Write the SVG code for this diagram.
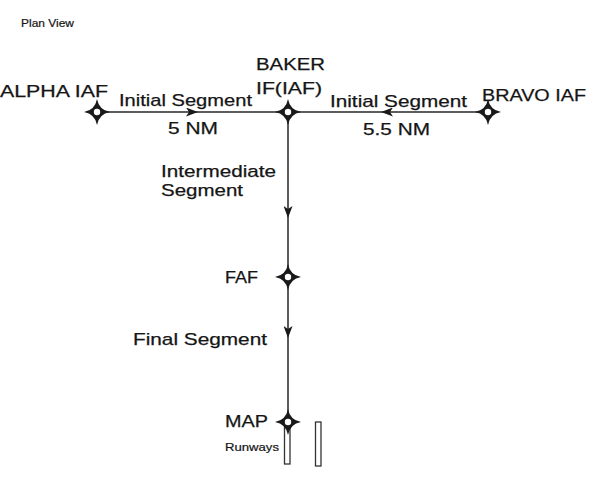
<svg xmlns="http://www.w3.org/2000/svg" width="600" height="481" viewBox="0 0 600 481">
<style>
.t{font-family:"Liberation Sans",Arial,sans-serif;font-size:17px;fill:#151515;stroke:#151515;stroke-width:0.25}
.s{font-family:"Liberation Sans",Arial,sans-serif;font-size:10.5px;fill:#151515;stroke:#151515;stroke-width:0.2}
.c{fill:none;stroke:#262626;stroke-width:1.5}
.rw{fill:#fff;stroke:#333;stroke-width:1.3}
</style>
<defs>
<marker id="arr" viewBox="0 0 12 9" refX="12" refY="4.5" markerWidth="12" markerHeight="9" orient="auto" markerUnits="userSpaceOnUse">
<path d="M0,0 L12,4.5 L0,9 L3,4.5 Z" fill="#1a1a1a"/>
</marker>
<g id="fix">
<path d="M0,-13 Q2,-2 13,0 Q2,2 0,13 Q-2,2 -13,0 Q-2,-2 0,-13 Z" fill="#1a1a1a"/>
<circle r="5.5" fill="#1a1a1a"/>
<circle r="3.2" fill="#fff"/>
</g>
</defs>
<rect width="600" height="481" fill="#fff"/>
<text class="s" x="21" y="27" textLength="53" lengthAdjust="spacingAndGlyphs">Plan View</text>
<g id="connectors">
<path class="c" d="M97,112 L198,112 L287,112" marker-mid="url(#arr)"/>
<path class="c" d="M488,112 L381,112 L288,112" marker-mid="url(#arr)"/>
<path class="c" d="M288,112 L288,218 L288,277" marker-mid="url(#arr)"/>
<path class="c" d="M288,277 L288,338 L288,424" marker-mid="url(#arr)"/>
</g>
<g id="alpha">
<use href="#fix" x="97" y="112"/>
<text class="t" x="0" y="97" textLength="108" lengthAdjust="spacingAndGlyphs">ALPHA IAF</text>
</g>
<g id="seg-left">
<text class="t" x="119" y="106" textLength="133" lengthAdjust="spacingAndGlyphs">Initial Segment</text>
<text class="t" x="168" y="134" textLength="50" lengthAdjust="spacingAndGlyphs">5 NM</text>
</g>
<g id="baker">
<use href="#fix" x="288" y="112"/>
<text class="t" x="256" y="70" textLength="69" lengthAdjust="spacingAndGlyphs">BAKER</text>
<text class="t" x="256" y="94" textLength="66" lengthAdjust="spacingAndGlyphs">IF(IAF)</text>
</g>
<g id="seg-right">
<text class="t" x="330" y="107" textLength="137" lengthAdjust="spacingAndGlyphs">Initial Segment</text>
<text class="t" x="363" y="135" textLength="67" lengthAdjust="spacingAndGlyphs">5.5 NM</text>
</g>
<g id="bravo">
<use href="#fix" x="488" y="112"/>
<text class="t" x="482" y="101" textLength="104" lengthAdjust="spacingAndGlyphs">BRAVO IAF</text>
</g>
<g id="intermediate">
<text class="t" x="161" y="177" textLength="115" lengthAdjust="spacingAndGlyphs">Intermediate</text>
<text class="t" x="161" y="196" textLength="82" lengthAdjust="spacingAndGlyphs">Segment</text>
</g>
<g id="faf">
<use href="#fix" x="288" y="277"/>
<text class="t" x="225" y="283" textLength="33" lengthAdjust="spacingAndGlyphs">FAF</text>
</g>
<g id="final">
<text class="t" x="133" y="345" textLength="134" lengthAdjust="spacingAndGlyphs">Final Segment</text>
</g>
<g id="runways">
<rect class="rw" x="284.5" y="424" width="5.5" height="40"/>
<rect class="rw" x="315.5" y="422" width="5.5" height="44"/>
<text class="s" x="225" y="451" textLength="54" lengthAdjust="spacingAndGlyphs">Runways</text>
</g>
<g id="map">
<use href="#fix" x="288" y="422"/>
<text class="t" x="225" y="427" textLength="43" lengthAdjust="spacingAndGlyphs">MAP</text>
</g>
</svg>
